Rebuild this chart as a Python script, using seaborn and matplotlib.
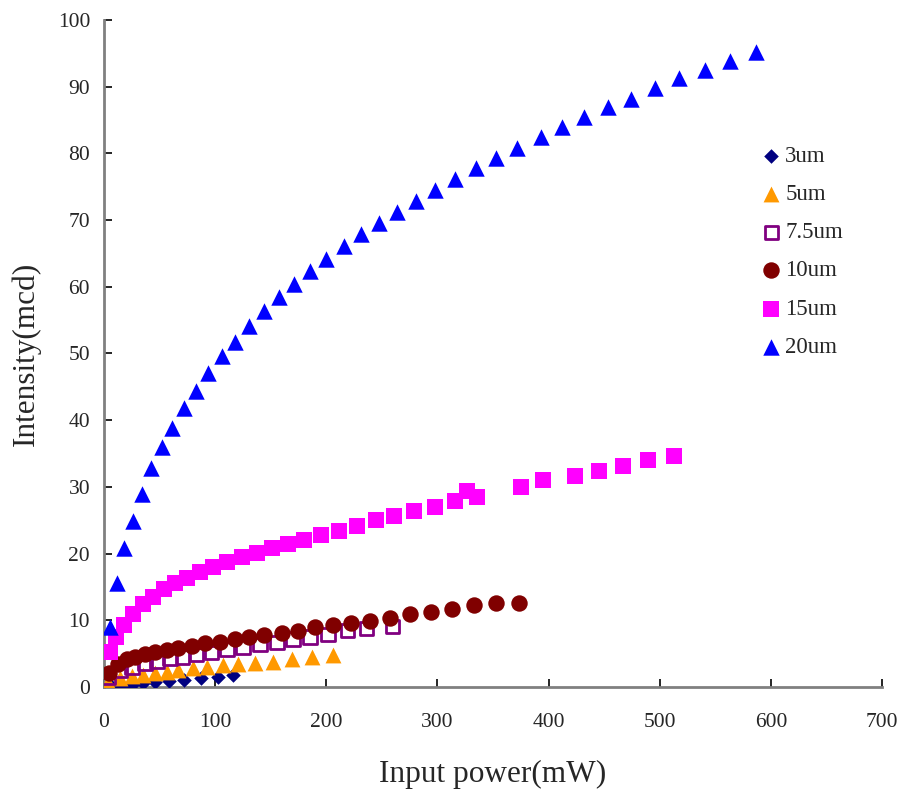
import matplotlib
matplotlib.use("Agg")
import matplotlib.pyplot as plt
import seaborn as sns

# 3um
x_3 = [7.2, 16.2, 25.2, 35.1, 45.9, 58.5, 71.9, 87.2, 102.5, 116.0]
y_3 = [0.0, 0.2, 0.3, 0.6, 0.8, 0.9, 1.1, 1.3, 1.5, 1.8]

# 5um
x_5 = [3.6, 14.4, 25.2, 35.1, 45.9, 56.7, 66.5, 80.0, 92.6, 107.0, 120.5,
       135.8, 152.0, 169.1, 187.1, 205.9]
y_5 = [0.7, 1.3, 1.6, 1.8, 2.1, 2.2, 2.5, 2.8, 3.0, 3.3, 3.4,
       3.6, 3.7, 4.2, 4.5, 4.8]

# 7.5um
x_75 = [3.6, 14.4, 25.2, 36.9, 47.7, 59.4, 71.0, 83.6, 97.1, 110.6, 125.0,
        140.3, 155.6, 170.0, 185.3, 201.5, 219.4, 236.5, 259.9]
y_75 = [1.5, 2.5, 3.0, 3.6, 3.9, 4.3, 4.5, 4.9, 5.2, 5.7, 6.0,
        6.4, 6.7, 7.2, 7.5, 7.9, 8.5, 8.8, 9.1]

# 10um
x_10 = [4.5, 12.6, 20.7, 27.9, 36.9, 45.9, 56.7, 66.5, 79.1, 90.8, 104.3,
        117.8, 130.4, 143.9, 160.1, 174.5, 189.7, 205.9, 222.1, 239.2,
        257.2, 275.2, 294.1, 312.9, 332.7, 352.5, 373.2]
y_10 = [2.1, 3.4, 4.2, 4.5, 4.9, 5.2, 5.5, 5.8, 6.1, 6.6, 6.7,
        7.2, 7.5, 7.8, 8.1, 8.4, 9.0, 9.3, 9.6, 9.9,
        10.3, 10.9, 11.2, 11.7, 12.3, 12.6, 12.6]

# 15um
x_15 = [5.4, 10.8, 18.0, 26.1, 35.1, 44.1, 54.0, 63.8, 74.6, 86.3, 98.0,
        110.6, 124.1, 137.6, 151.1, 165.5, 179.9, 195.1, 211.3, 227.5,
        244.6, 260.8, 278.8, 297.7, 315.6, 326.4, 335.4, 375.0, 394.8,
        423.6, 445.1, 466.7, 489.2, 512.6]
y_15 = [5.2, 7.5, 9.3, 10.9, 12.4, 13.5, 14.7, 15.6, 16.3, 17.2, 18.0,
        18.7, 19.5, 20.1, 20.8, 21.4, 22.0, 22.8, 23.4, 24.1,
        25.0, 25.6, 26.4, 27.0, 27.9, 29.4, 28.5, 30.0, 31.0,
        31.6, 32.4, 33.1, 34.0, 34.6]

# 20um
x_20 = [5.4, 11.7, 18.0, 26.1, 34.2, 42.3, 52.2, 61.2, 71.9, 82.7, 93.5,
        106.1, 117.8, 130.4, 143.9, 157.4, 170.9, 185.3, 199.6, 215.8,
        231.1, 247.3, 263.5, 280.6, 297.7, 315.6, 334.5, 352.5, 371.4,
        393.0, 411.9, 431.7, 453.2, 473.9, 495.5, 517.1, 540.5, 563.0, 586.3]
y_20 = [9.0, 15.6, 20.8, 24.9, 28.9, 32.8, 36.0, 38.8, 41.8, 44.4, 47.1,
        49.6, 51.7, 54.1, 56.4, 58.5, 60.4, 62.4, 64.2, 66.1,
        67.9, 69.6, 71.2, 72.9, 74.5, 76.2, 77.8, 79.3, 80.8,
        82.5, 84.0, 85.5, 87.0, 88.2, 89.8, 91.3, 92.5, 93.9, 95.2]

sns.set_style("ticks")
plt.rcParams['font.family'] = ['Liberation Serif', 'DejaVu Serif']

fig = plt.figure(figsize=(9.09, 7.89), dpi=100)
ax = fig.add_axes([0.1144, 0.1293, 0.8559, 0.8454])

sns.scatterplot(x=x_3, y=y_3, marker="D", color="#000080", s=55,
                linewidth=0, label="3um", ax=ax, zorder=3)
sns.scatterplot(x=x_5, y=y_5, marker="^", color="#FF9900", s=130,
                linewidth=0, label="5um", ax=ax, zorder=3)
sns.scatterplot(x=x_75, y=y_75, marker="s", facecolors="none",
                edgecolor="#800080", s=90, linewidth=2, label="7.5um",
                ax=ax, zorder=3)
sns.scatterplot(x=x_10, y=y_10, marker="o", color="#800000", s=140,
                linewidth=0, label="10um", ax=ax, zorder=3)
sns.scatterplot(x=x_15, y=y_15, marker="s", color="#FF00FF", s=120,
                linewidth=0, label="15um", ax=ax, zorder=3)
sns.scatterplot(x=x_20, y=y_20, marker="^", color="#0000FF", s=140,
                linewidth=0, label="20um", ax=ax, zorder=3)

ax.set_xlim(0, 700)
ax.set_ylim(0, 100)
ax.set_xticks(range(0, 701, 100))
ax.set_yticks(range(0, 101, 10))
ax.tick_params(direction="in", length=6, width=1.2, color="black",
               labelsize=15.5)
ax.tick_params(axis="x", pad=19)
ax.tick_params(axis="y", pad=10)

for side in ["top", "right"]:
    ax.spines[side].set_visible(False)
for side in ["left", "bottom"]:
    ax.spines[side].set_color("#808080")
    ax.spines[side].set_linewidth(2)

ax.set_xlabel("Input power(mW)", fontsize=22.5, labelpad=20)
ax.set_ylabel("Intensity(mcd)", fontsize=22.5, labelpad=12)

ax.legend(loc="upper left", bbox_to_anchor=(0.826, 0.827),
          bbox_transform=fig.transFigure, frameon=False, fontsize=16.5,
          handletextpad=0.1, labelspacing=0.75, borderaxespad=0,
          handlelength=1.0)

fig.savefig("out.png", dpi=100)
